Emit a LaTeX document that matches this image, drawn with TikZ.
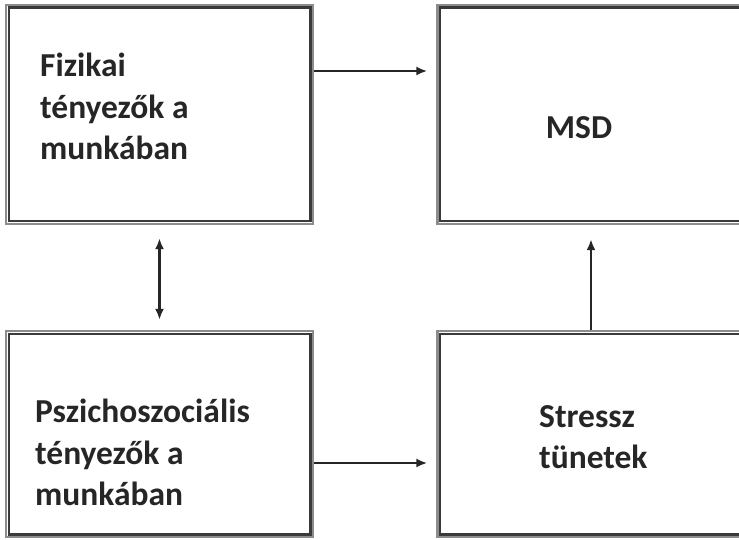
\documentclass[tikz,border=0pt]{standalone}
\usepackage{fontspec}
\setmainfont{Carlito}
\usetikzlibrary{arrows.meta}
\usetikzlibrary{calc}

\definecolor{outline}{HTML}{8C8C8C}
\definecolor{inline}{HTML}{3A3A3A}
\definecolor{ink}{HTML}{262626}

\begin{document}
\begin{tikzpicture}[x=1pt,y=-1pt,
    box/.style={draw=outline, line width=2.4pt, minimum width=307, inner sep=0pt},
    inbox/.style={draw=inline, line width=2.2pt},
    lbl/.style={text=ink, font=\fontsize{33.5}{41.5}\selectfont\bfseries, inner sep=0pt, align=left},
    arr/.style={-{Latex[length=11pt,width=9pt]}, line width=2.6pt, draw=ink}]
            \clip (0,0) rectangle (739,540);
            \fill[white] (0,0) rectangle (739,540);
            % boxes
            \node[box, minimum height=219] (fiz) at (159.5,114.5) {};
            \node[box, minimum height=219] (msd) at (591,114.5) {};
            \node[box, minimum height=206] (psz) at (159.5,434) {};
            \node[box, minimum height=206] (str) at (591,434) {};
            \foreach \b in {fiz,msd,psz,str}
                \draw[inbox] ([shift={(3.8,3.8)}]\b.north west) rectangle ([shift={(-3.8,-3.8)}]\b.south east);
            % texts
            \node[lbl, anchor=north west] (tfiz) at (40,53) {Fizikai\\tényezők a\\munkában};
            \node[lbl] (tmsd) at (579,127.5) {MSD};
            \node[lbl, anchor=north west] (tpsz) at (35,399) {Pszichoszociális\\tényezők a\\munkában};
            \node[lbl, anchor=north west] (tstr) at (539,405) {Stressz\\tünetek};
            % arrows
            \coordinate (r1) at (0,71);
            \coordinate (r2) at (0,463);
            \draw[arr, shorten >=9pt] (fiz.east |- r1) -- (msd.west |- r1);
            \draw[arr, shorten >=9pt] (psz.east |- r2) -- (str.west |- r2);
            \draw[arr, shorten >=14pt] (str.north) -- (msd.south);
            \draw[arr, {Latex[length=11pt,width=9pt]}-{Latex[length=11pt,width=9pt]}, shorten <=13pt, shorten >=10pt] (fiz.south) -- (psz.north);
        \end{tikzpicture}
\end{document}
